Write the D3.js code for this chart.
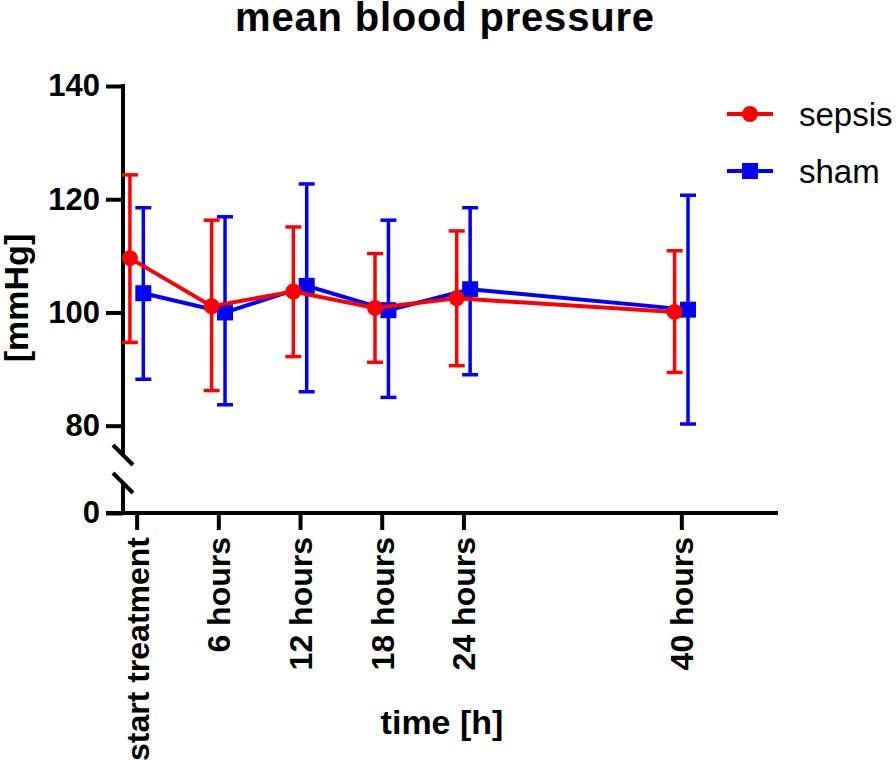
<!DOCTYPE html>
<html>
<head>
<meta charset="utf-8">
<script src="https://cdn.jsdelivr.net/npm/d3@7"></script>
<style>
  body { margin: 0; background: #fff; }
  svg { display: block; }
  text { font-family: "Liberation Sans", Arial, Helvetica, sans-serif; }
</style>
</head>
<body>
<svg id="chart" width="896" height="760"></svg>
<script>
// ---- data ----
const timesHours = [0, 6, 12, 18, 24, 40];
const timeLabels = ["start treatment", "6 hours", "12 hours", "18 hours", "24 hours", "40 hours"];
const sepsisMean = [109.6, 101.1, 103.7, 100.8, 102.5, 100.1];
const sepsisUpper = [124.3, 116.3, 115.1, 110.4, 114.4, 110.9];
const sepsisLower = [94.7, 86.2, 92.2, 91.2, 90.6, 89.4];
const shamMean = [103.4, 100.0, 104.7, 100.4, 104.1, 100.5];
const shamUpper = [118.5, 116.9, 122.7, 116.3, 118.5, 120.7];
const shamLower = [88.2, 83.7, 86.0, 85.0, 89.0, 80.3];
const yTicksUpper = [80, 100, 120, 140];
const yTicksLower = [0];
const seriesNames = ["sepsis", "sham"];

// ---- layout ----
const svg = d3.select("#chart");
const axisX = 123, xEnd = 778;
const x = d3.scaleLinear().domain([-1, 47.1]).range([axisX, xEnd]);
const yUp = d3.scaleLinear().domain([75, 140]).range([454, 86]);
const yLow = d3.scaleLinear().domain([0, 5.3]).range([513, 483]);
const black = "#000";
const red = "#FF0000", blue = "#0000FF";

// title
svg.append("text").attr("x", 445).attr("y", 31).attr("text-anchor", "middle")
  .attr("font-size", 40).attr("font-weight", "bold").attr("letter-spacing", 0.8)
  .text("mean blood pressure");

// y axis (upper segment)
const gyU = svg.append("g").attr("transform", `translate(${axisX},0)`)
  .call(d3.axisLeft(yUp).tickValues(yTicksUpper).tickSize(17).tickPadding(6).tickFormat(d3.format("d")));
// y axis (lower segment)
const gyL = svg.append("g").attr("transform", `translate(${axisX},0)`)
  .call(d3.axisLeft(yLow).tickValues(yTicksLower).tickSize(17).tickPadding(6).tickFormat(d3.format("d")));
[gyU, gyL].forEach(g => {
  g.select(".domain").remove();
  g.selectAll(".tick line").attr("stroke", black).attr("stroke-width", 4);
  g.selectAll(".tick text").attr("font-size", 31).attr("font-weight", "bold").attr("fill", black)
    .attr("font-family", "'Liberation Sans', Arial, sans-serif");
});
// axis line segments and break marks
svg.append("line").attr("x1", axisX).attr("x2", axisX).attr("y1", yUp(140) - 2).attr("y2", 455)
  .attr("stroke", black).attr("stroke-width", 4);
svg.append("line").attr("x1", axisX).attr("x2", axisX).attr("y1", 483).attr("y2", yLow(0))
  .attr("stroke", black).attr("stroke-width", 4);
[455, 483].forEach(cy => {
  svg.append("line").attr("x1", axisX - 10).attr("y1", cy - 10).attr("x2", axisX + 10).attr("y2", cy + 10)
    .attr("stroke", black).attr("stroke-width", 4);
});

// x axis
const gx = svg.append("g").attr("transform", `translate(0,${yLow(0)})`)
  .call(d3.axisBottom(x).tickValues(timesHours).tickSize(17).tickFormat((d, i) => timeLabels[i]));
gx.select(".domain").remove();
svg.append("line").attr("x1", axisX - 17).attr("x2", xEnd).attr("y1", yLow(0)).attr("y2", yLow(0))
  .attr("stroke", black).attr("stroke-width", 4);
gx.selectAll(".tick line").attr("stroke", black).attr("stroke-width", 4);
gx.selectAll(".tick text")
  .attr("font-size", 32).attr("font-weight", "bold").attr("fill", black)
  .attr("font-family", "'Liberation Sans', Arial, sans-serif")
  .attr("text-anchor", "end").attr("dy", null)
  .attr("transform", "translate(11.5,24) rotate(-90)")
  .attr("x", 0).attr("y", 0);

// axis titles
svg.append("text").attr("x", 442).attr("y", 734).attr("text-anchor", "middle")
  .attr("font-size", 34).attr("font-weight", "bold").text("time [h]");
svg.append("text").attr("transform", "translate(28,298) rotate(-90)").attr("text-anchor", "middle")
  .attr("font-size", 34).attr("font-weight", "bold").text("[mmHg]");

// series
function drawSeries(means, lows, highs, color, offset, symbol) {
  const g = svg.append("g");
  const pts = timesHours.map((t, i) => ({ t, m: means[i], lo: lows[i], hi: highs[i] }));
  const px = d => x(d.t) + offset;
  // error bars
  pts.forEach(d => {
    g.append("line").attr("x1", px(d)).attr("x2", px(d)).attr("y1", yUp(d.lo)).attr("y2", yUp(d.hi))
      .attr("stroke", color).attr("stroke-width", 3.5);
    [d.lo, d.hi].forEach(v => g.append("line").attr("x1", px(d) - 8).attr("x2", px(d) + 8)
      .attr("y1", yUp(v)).attr("y2", yUp(v)).attr("stroke", color).attr("stroke-width", 3.5));
  });
  // line
  g.append("path").datum(pts)
    .attr("d", d3.line().x(px).y(d => yUp(d.m)))
    .attr("fill", "none").attr("stroke", color).attr("stroke-width", 4);
  // symbols
  g.selectAll("path.sym").data(pts).enter().append("path").attr("class", "sym")
    .attr("transform", d => `translate(${px(d)},${yUp(d.m)})`)
    .attr("d", d3.symbol().type(symbol).size(symbol === d3.symbolCircle ? 200 : 256)())
    .attr("fill", color);
}
drawSeries(shamMean, shamLower, shamUpper, blue, 6.7, d3.symbolSquare);
drawSeries(sepsisMean, sepsisLower, sepsisUpper, red, -6.7, d3.symbolCircle);

// legend
const legend = [
  { name: seriesNames[0], color: red, sym: d3.symbolCircle, size: 200, y: 114 },
  { name: seriesNames[1], color: blue, sym: d3.symbolSquare, size: 256, y: 171 }
];
legend.forEach(l => {
  svg.append("line").attr("x1", 727).attr("x2", 773).attr("y1", l.y).attr("y2", l.y)
    .attr("stroke", l.color).attr("stroke-width", 4);
  svg.append("path").attr("transform", `translate(750,${l.y})`)
    .attr("d", d3.symbol().type(l.sym).size(l.size)()).attr("fill", l.color);
  svg.append("text").attr("x", 799).attr("y", l.y + 12).attr("font-size", 33).text(l.name);
});
</script>
</body>
</html>
